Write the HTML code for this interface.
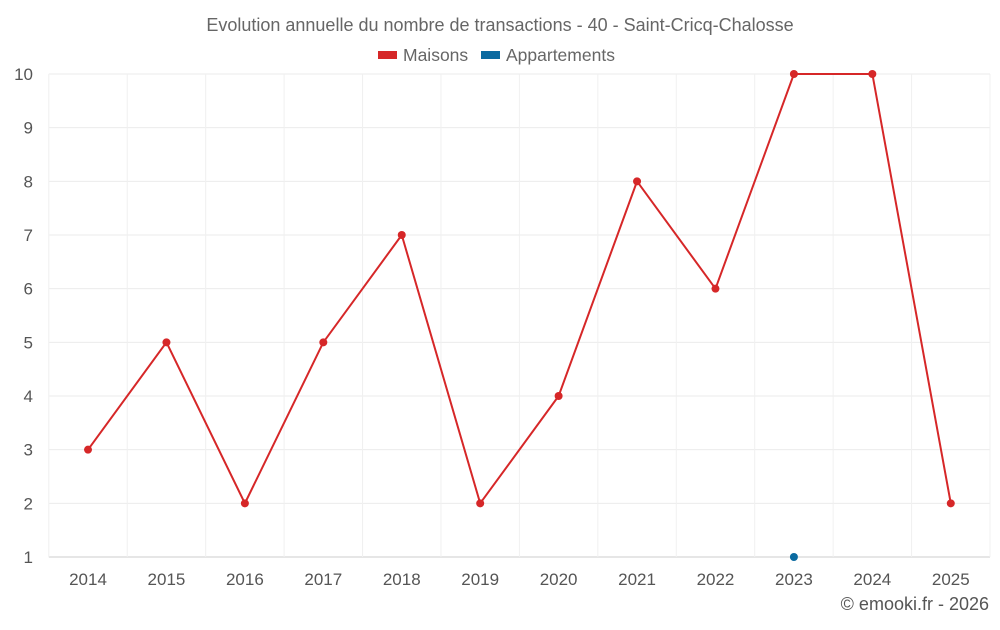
<!DOCTYPE html>
<html><head><meta charset="utf-8"><style>
body{margin:0;background:#fff;font-family:"Liberation Sans",sans-serif}
svg text{font-family:"Liberation Sans",sans-serif}
</style></head><body>
<svg id="chart" width="1000" height="625">
<text x="500" y="31" text-anchor="middle" font-size="18" fill="#666">Evolution annuelle du nombre de transactions - 40 - Saint-Cricq-Chalosse</text>
<g><rect x="378" y="51" width="19" height="8" fill="#d62728"/><text x="403" y="61" font-size="17.5" fill="#666">Maisons</text></g>
<g><rect x="481" y="51" width="19" height="8" fill="#0b6aa0"/><text x="506" y="61" font-size="17.5" fill="#666">Appartements</text></g>
<g id="grid"></g><g id="axes"></g><g id="series"></g>
<text x="989" y="610" text-anchor="end" font-size="18" fill="#555">© emooki.fr - 2026</text>
</svg>
<script>
const years=["2014","2015","2016","2017","2018","2019","2020","2021","2022","2023","2024","2025"];
const maisons=[3,5,2,5,7,2,4,8,6,10,10,2];
const appartements=[null,null,null,null,null,null,null,null,null,1,null,null];
const yTicks=[1,2,3,4,5,6,7,8,9,10];
const NS="http://www.w3.org/2000/svg";
const L=48.8,R=990,T=74,B=557,yMin=1,yMax=10;
const bw=(R-L)/years.length;
const x=i=>L+bw*(i+0.5);
const y=v=>B-(v-yMin)/(yMax-yMin)*(B-T);
function mk(tag,at,p){const e=document.createElementNS(NS,tag);for(const k in at)e.setAttribute(k,at[k]);p.appendChild(e);return e;}
const g=document.getElementById('grid'),a=document.getElementById('axes'),s=document.getElementById('series');
yTicks.forEach(v=>{
 const l=mk('line',{x1:L,x2:R,y1:y(v),y2:y(v),stroke:v===yMin?'#ccc':'#ebebeb'},g);
 
 
 const t=mk('text',{x:33,y:y(v)+6,'text-anchor':'end','font-size':17,fill:'#555'},a);t.textContent=v;
 
 
});
for(let i=0;i<=years.length;i++){
 const l=mk('line',{x1:L+bw*i,x2:L+bw*i,y1:T,y2:B,stroke:'#f0f0f0'},g);
 
 
}
years.forEach((yr,i)=>{
 const t=mk('text',{x:x(i),y:585,'text-anchor':'middle','font-size':17,fill:'#555'},a);t.textContent=yr;
 
 
});
const pts=maisons.map((v,i)=>x(i)+','+y(v)).join(' ');
const pl=mk('polyline',{points:pts,fill:'none',stroke:'#d62728','stroke-width':2},s);


maisons.forEach((v,i)=>{
 const c=mk('circle',{cx:x(i),cy:y(v),r:4,fill:'#d62728'},s);
 
 
});
appartements.forEach((v,i)=>{
 if(v==null)return;
 const c=mk('circle',{cx:x(i),cy:y(v),r:4,fill:'#0b6aa0'},s);
 
 
});
</script>
</body></html>
